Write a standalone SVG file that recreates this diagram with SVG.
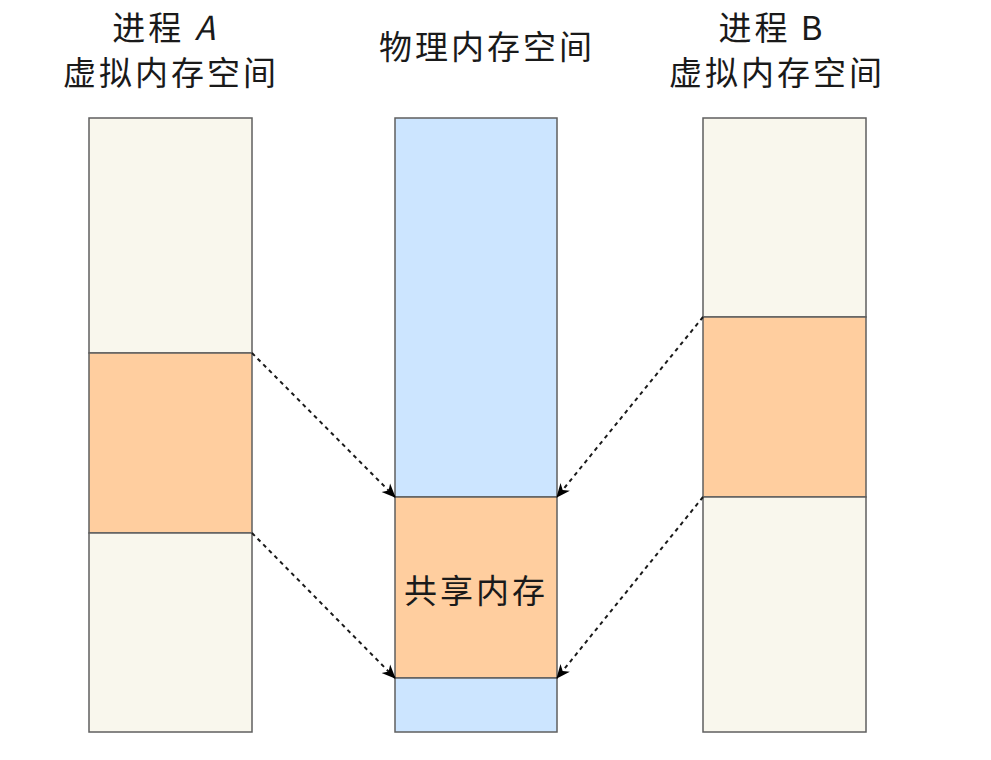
<svg xmlns="http://www.w3.org/2000/svg" width="991" height="760" viewBox="0 0 991 760">
<defs>
<style>
.t{font-family:"Noto Sans CJK SC","Liberation Sans",sans-serif;font-size:33px;fill:#1a1a1a;text-anchor:middle;letter-spacing:3px}
.b{fill:#f9f7ed;stroke:#5f5f5f;stroke-width:1.5}
.o{fill:#ffce9f;stroke:#5f5f5f;stroke-width:1.5}
.p{fill:#cce5ff;stroke:#5f5f5f;stroke-width:1.5}
.c{fill:none;stroke:#1a1a1a;stroke-width:2;stroke-dasharray:4 4}
</style>
<marker id="ah" viewBox="0 0 14 14" refX="13" refY="7" markerWidth="14" markerHeight="14" markerUnits="userSpaceOnUse" orient="auto">
<path d="M0,1 L14,7 L0,13 L4,7 Z" fill="#000"/>
</marker>
</defs>
<rect width="991" height="760" fill="#fff"/>
<g id="procA">
<text class="t" x="165" y="40">进程 <tspan font-style="italic">A</tspan></text>
<text class="t" x="171" y="85">虚拟内存空间</text>
<rect class="b" x="89" y="118" width="163" height="235"/>
<rect class="o" x="89" y="353" width="163" height="180"/>
<rect class="b" x="89" y="533" width="163" height="199"/>
</g>
<g id="phys">
<text class="t" x="487" y="59">物理内存空间</text>
<rect class="p" x="395" y="118" width="162" height="379"/>
<rect class="o" x="395" y="497" width="162" height="181"/>
<rect class="p" x="395" y="678" width="162" height="54"/>
<text class="t" x="476" y="603">共享内存</text>
</g>
<g id="procB">
<text class="t" x="772" y="40">进程 B</text>
<text class="t" x="777" y="85">虚拟内存空间</text>
<rect class="b" x="703" y="118" width="163" height="199"/>
<rect class="o" x="703" y="317" width="163" height="180"/>
<rect class="b" x="703" y="497" width="163" height="235"/>
</g>
<g id="connectors">
<line class="c" x1="252" y1="353" x2="395" y2="497" marker-end="url(#ah)"/>
<line class="c" x1="252" y1="533" x2="395" y2="678" marker-end="url(#ah)"/>
<line class="c" x1="703" y1="317" x2="557" y2="497" marker-end="url(#ah)"/>
<line class="c" x1="703" y1="497" x2="557" y2="678" marker-end="url(#ah)"/>
</g>
</svg>
